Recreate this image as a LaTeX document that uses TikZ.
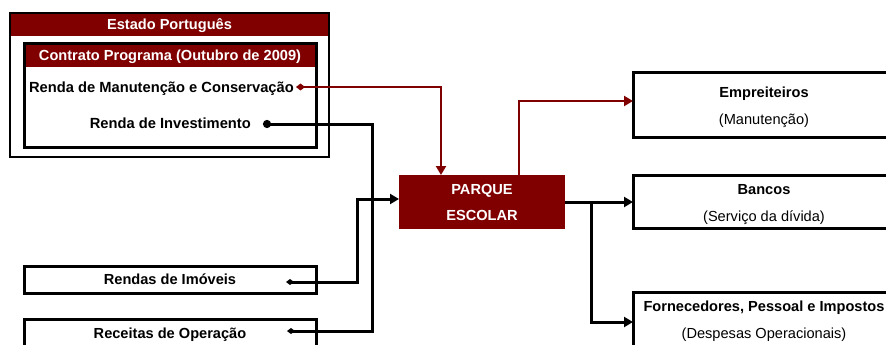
\documentclass[tikz,border=0pt]{standalone}
\usepackage{fontspec}
\setmainfont{Liberation Sans}
\usetikzlibrary{arrows.meta}
\definecolor{dred}{HTML}{800000}
\begin{document}
\begin{tikzpicture}[x=1pt,y=-1pt,
  bx/.style={draw=black, line width=3pt, fill=white, inner sep=0pt, outer sep=0pt, anchor=north west},
  hdr/.style={fill=dred, text=white, inner sep=0pt, outer sep=0pt, anchor=north west, font=\bfseries\fontsize{14.6}{17}\selectfont, text height=10.4pt, text depth=0pt},
  lbl/.style={font=\bfseries\fontsize{14.7}{17}\selectfont, inner sep=0pt},
  two/.style={align=center, font=\fontsize{14.6}{27}\selectfont, text height=39.4pt, text depth=0pt},
  one/.style={font=\bfseries\fontsize{14.6}{17}\selectfont, text height=10.4pt, text depth=0pt},
  conn/.style={line width=3pt, draw=black},
  rconn/.style={line width=2.8pt, draw=dred},
  tri/.tip={Triangle[length=9pt,width=10pt]},
  dia/.tip={Diamond[length=8pt,width=6pt]},
]
\fill[white] (0,0) rectangle (886,345);
\useasboundingbox (0,0) rectangle (886,345);
\clip (0,0) rectangle (886,345);

% Estado Portugues
\node[hdr, minimum width=319pt, minimum height=23pt] (estadoh) at (10,13) {Estado Português};
\node[draw=black, line width=2pt, inner sep=0pt, outer sep=0pt, anchor=north west, minimum width=319pt, minimum height=144pt] (estado) at (10,13) {};

% Contrato Programa
\node[hdr, minimum width=292pt, minimum height=23pt] (contratoh) at (24,44) {Contrato Programa (Outubro de 2009)};
\node[draw=black, line width=3pt, inner sep=0pt, outer sep=0pt, anchor=north west, minimum width=292pt, minimum height=103pt] (contrato) at (24,44) {};

\node[lbl, anchor=base east] (rmc) at (294,92.5) {Renda de Manutenção e Conservação};
\node[lbl, anchor=base east] (rinv) at (251,128.5) {Renda de Investimento};
\coordinate (rmcmark) at (296,87);
\coordinate (rinvmark) at (263,124);

% Parque Escolar
\node[fill=dred, text=white, minimum width=166pt, minimum height=54pt, anchor=north west, inner sep=0pt, outer sep=0pt, align=center, font=\bfseries\fontsize{14.6}{26.5}\selectfont, text height=37pt, text depth=0pt] (parque) at (399,175) {PARQUE\\ESCOLAR};

% right boxes
\node[bx, minimum width=262pt, minimum height=64pt, two] (emp) at (633,73) {\textbf{Empreiteiros}\\(Manutenção)};
\node[bx, minimum width=262pt, minimum height=53pt, two] (banc) at (633,175) {\textbf{Bancos}\\(Serviço da dívida)};
\node[bx, minimum width=262pt, minimum height=54pt, two] (forn) at (633,292) {\textbf{Fornecedores, Pessoal e Impostos}\\(Despesas Operacionais)};

% left boxes
\node[bx, minimum width=292pt, minimum height=27pt, one] (rim) at (24,266) {Rendas de Imóveis};
\node[bx, minimum width=292pt, minimum height=28pt, one] (rop) at (24,319) {Receitas de Operação};
\coordinate (rimmark) at (286,282);
\coordinate (ropmark) at (287,331);

% connectors
\draw[rconn, {Diamond[length=9pt,width=7pt]}-tri] (rmcmark) -| ([xshift=-41pt]parque.north);
\draw[rconn, -tri] ([xshift=37pt]parque.north) |- ([yshift=4pt]emp.west);
\draw[conn, -tri] (parque.east) -- (parque.east -| banc.west);
\draw[conn, -tri] ([xshift=26pt]parque.east) |- ([yshift=-3pt]forn.west);
\draw[conn, dia-tri] (rimmark) -- (357,282) |- ([yshift=3pt]parque.west);
\draw[conn, {Circle[length=8pt]}-dia] (rinvmark) -- (372,124) -- (372,331) -- (ropmark);
\end{tikzpicture}
\end{document}
